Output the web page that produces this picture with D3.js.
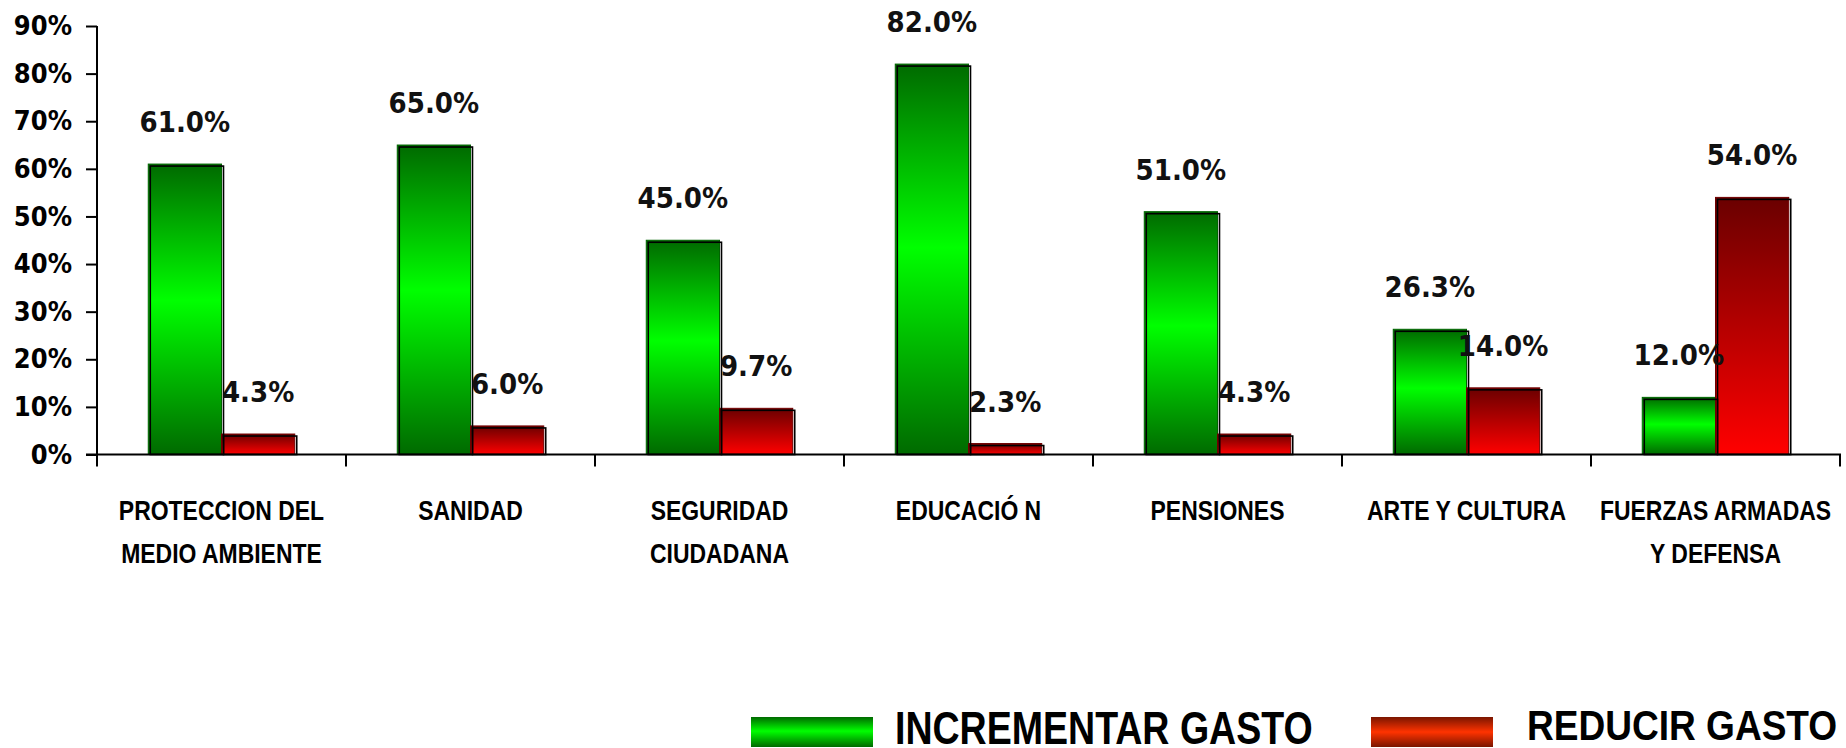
<!DOCTYPE html>
<html>
<head>
<meta charset="utf-8">
<script src="https://cdn.jsdelivr.net/npm/d3@7"></script>
<style>
  html, body { margin: 0; padding: 0; background: #fff; overflow: hidden; }
</style>
</head>
<body>
<div id="my_dataviz"></div>
<script>
// categories (second line of the label after "|")
var categories = ["PROTECCION DEL|MEDIO AMBIENTE", "SANIDAD", "SEGURIDAD|CIUDADANA", "EDUCACIÓ N", "PENSIONES", "ARTE Y CULTURA", "FUERZAS ARMADAS|Y DEFENSA"]
var series = ["INCREMENTAR GASTO", "REDUCIR GASTO"]
var incrementar = [61.0, 65.0, 45.0, 82.0, 51.0, 26.3, 12.0]
var reducir = [4.3, 6.0, 9.7, 2.3, 4.3, 14.0, 54.0]
var yTicks = [0, 10, 20, 30, 40, 50, 60, 70, 80, 90]

var width = 1846, height = 748
var narrowFont = "'Liberation Sans', Arial, sans-serif"

var svg = d3.select("#my_dataviz")
  .append("svg")
    .attr("width", width)
    .attr("height", height)

var defs = svg.append("defs")

// gradients
var gGreen = defs.append("linearGradient").attr("id", "gGreen").attr("x1", 0).attr("y1", 0).attr("x2", 0).attr("y2", 1)
gGreen.append("stop").attr("offset", "0%").attr("stop-color", "#006a00")
gGreen.append("stop").attr("offset", "47%").attr("stop-color", "#00ff00")
gGreen.append("stop").attr("offset", "100%").attr("stop-color", "#006a00")

var gRed = defs.append("linearGradient").attr("id", "gRed").attr("x1", 0).attr("y1", 0).attr("x2", 0).attr("y2", 1)
gRed.append("stop").attr("offset", "0%").attr("stop-color", "#6a0000")
gRed.append("stop").attr("offset", "100%").attr("stop-color", "#ff0000")

var gRedLeg = defs.append("linearGradient").attr("id", "gRedLeg").attr("x1", 0).attr("y1", 0).attr("x2", 0).attr("y2", 1)
gRedLeg.append("stop").attr("offset", "0%").attr("stop-color", "#7a1500")
gRedLeg.append("stop").attr("offset", "50%").attr("stop-color", "#ff3300")
gRedLeg.append("stop").attr("offset", "100%").attr("stop-color", "#7a1500")

var fills = {"INCREMENTAR GASTO": "url(#gGreen)", "REDUCIR GASTO": "url(#gRed)"}
var edges = {"INCREMENTAR GASTO": "#006400", "REDUCIR GASTO": "#700000"}
var legendFills = {"INCREMENTAR GASTO": "url(#gGreen)", "REDUCIR GASTO": "url(#gRedLeg)"}

// scales
var x0 = d3.scaleBand()
  .domain(categories)
  .range([97, 1840])
  .padding(0)

var x1 = d3.scaleBand()
  .domain(series)
  .range([0, x0.bandwidth()])
  .paddingInner(0)
  .paddingOuter(0.7)

var y = d3.scaleLinear()
  .domain([0, 90])
  .range([454.5, 26])

// data rows
var rows = []
categories.forEach(function(c, i) {
  rows.push({cat: c, s: series[0], v: incrementar[i]})
  rows.push({cat: c, s: series[1], v: reducir[i]})
})

// y axis
var yAxis = svg.append("g")
  .attr("transform", "translate(97,0)")
  .call(d3.axisLeft(y).tickValues(yTicks).tickSize(11).tickPadding(14).tickFormat(function(d) { return d + "%" }))
yAxis.select(".domain").attr("stroke", "#000").attr("stroke-width", 2)
  .attr("d", "M0,26V466")
yAxis.selectAll(".tick line").attr("stroke", "#000").attr("stroke-width", 2)
yAxis.selectAll(".tick text")
  .style("font-family", "'DejaVu Sans Condensed', 'DejaVu Sans', sans-serif")
  .style("font-stretch", "condensed")
  .style("font-weight", "bold")
  .style("font-size", "27px")
  .attr("fill", "#000")

// bars
var bars = svg.append("g")
bars.selectAll("rect.fill")
  .data(rows)
  .enter()
  .append("rect")
    .attr("class", "fill")
    .attr("x", function(d) { return x0(d.cat) + x1(d.s) })
    .attr("y", function(d) { return y(d.v) })
    .attr("width", x1.bandwidth())
    .attr("height", function(d) { return y(0) - y(d.v) })
    .attr("fill", function(d) { return fills[d.s] })
    .attr("stroke", function(d) { return edges[d.s] })
    .attr("stroke-width", 1)

// offset black outline (3d look)
bars.selectAll("rect.edge")
  .data(rows)
  .enter()
  .append("rect")
    .attr("class", "edge")
    .attr("x", function(d) { return x0(d.cat) + x1(d.s) + 2 })
    .attr("y", function(d) { return y(d.v) + 2 })
    .attr("width", x1.bandwidth())
    .attr("height", function(d) { return Math.max(0, y(0) - y(d.v) - 2) })
    .attr("fill", "none")
    .attr("stroke", "#000")
    .attr("stroke-width", 1.6)

// value labels
svg.append("g").selectAll("text")
  .data(rows)
  .enter()
  .append("text")
    .attr("x", function(d) { return x0(d.cat) + x1(d.s) + x1.bandwidth() / 2 })
    .attr("y", function(d) { return y(d.v) - 32 })
    .attr("text-anchor", "middle")
    .style("font-family", "'DejaVu Sans Condensed', 'DejaVu Sans', sans-serif")
    .style("font-stretch", "condensed")
    .style("font-weight", "bold")
    .style("font-size", "29px")
    .style("fill", "#111")
    .text(function(d) { return d.v.toFixed(1) + "%" })

// x axis
var xAxis = svg.append("g")
  .attr("transform", "translate(0,454.5)")
  .call(d3.axisBottom(x0).tickSize(0).tickFormat(""))
xAxis.select(".domain").attr("stroke", "#000").attr("stroke-width", 2).attr("d", "M86,0H1841")

// ticks at category boundaries
var bounds = categories.map(function(c) { return x0(c) }).concat([x0.range()[1]])
xAxis.selectAll("line.bound")
  .data(bounds)
  .enter()
  .append("line")
    .attr("class", "bound")
    .attr("x1", function(d) { return d })
    .attr("x2", function(d) { return d })
    .attr("y1", 0)
    .attr("y2", 12)
    .attr("stroke", "#000")
    .attr("stroke-width", 2)

// category labels (narrow look: squeeze horizontally)
var catLabels = svg.append("g").selectAll("text")
  .data(categories)
  .enter()
  .append("text")
    .attr("transform", function(d) { return "translate(" + (x0(d) + x0.bandwidth() / 2) + ",520) scale(0.82,1)" })
    .attr("text-anchor", "middle")
    .style("font-family", narrowFont)
    .style("font-weight", "bold")
    .style("font-size", "28px")
    .style("fill", "#000")
catLabels.selectAll("tspan")
  .data(function(d) { return d.split("|") })
  .enter()
  .append("tspan")
    .attr("x", 0)
    .attr("dy", function(d, i) { return i ? 43 : 0 })
    .text(function(d) { return d })

// legend
var legX = [751, 1371]
var legTextX = [895, 1527]
var legTextY = [744, 740]
var legSize = [46, 43]
var legSqueeze = [0.816, 0.862]
var legend = svg.append("g")
legend.selectAll("rect")
  .data(series)
  .enter()
  .append("rect")
    .attr("x", function(d, i) { return legX[i] })
    .attr("y", 717)
    .attr("width", 122)
    .attr("height", 30)
    .attr("fill", function(d) { return legendFills[d] })
legend.selectAll("text")
  .data(series)
  .enter()
  .append("text")
    .attr("transform", function(d, i) { return "translate(" + legTextX[i] + "," + legTextY[i] + ") scale(" + legSqueeze[i] + ",1)" })
    .style("font-family", narrowFont)
    .style("font-weight", "bold")
    .style("font-size", function(d, i) { return legSize[i] + "px" })
    .style("fill", "#000")
    .text(function(d) { return d })
</script>
</body>
</html>
